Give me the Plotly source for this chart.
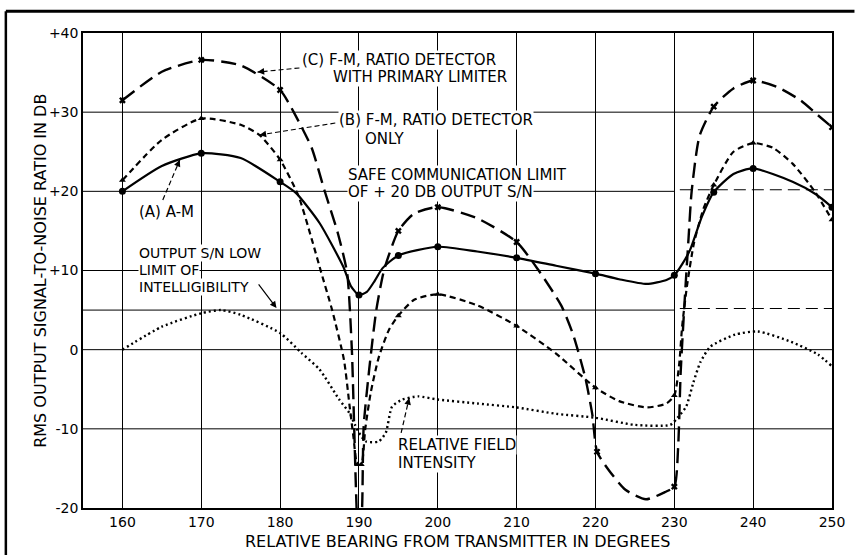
import plotly.graph_objects as go

# ---------------- data ----------------
bearing_ticks = [160, 170, 180, 190, 200, 210, 220, 230, 240, 250]
db_ticks = [-20, -10, 0, 10, 20, 30, 40]
db_ticktext = ["-20", "-10", "0", "+10", "+20", "+30", "+40"]

# (A) A-M  (solid, circles)
am_x = [160, 165, 170, 175, 180, 182, 185, 188, 189, 190, 191, 192, 193, 195, 200, 205, 210, 215, 220,
        223, 226.5, 229, 230, 231, 232, 233.5, 235, 237.5, 240, 245, 248, 250]
am_y = [20, 23.2, 24.8, 24.2, 21.2, 19.8, 16, 10.5, 8, 6.9, 7.3, 8.7, 10.3, 11.9, 13, 12.4, 11.6, 10.6, 9.6,
        8.9, 8.3, 8.8, 9.4, 10.8, 12.6, 16.8, 19.9, 22.2, 22.9, 21.2, 19.6, 18]
am_marks = [160, 170, 180, 190, 195, 200, 210, 220, 230, 235, 240, 250]

# (B) F-M, ratio detector only  (short dashes, triangles)
fm_x = [160, 165, 170, 175, 177.4, 180, 182.3, 184, 185.2, 186.6, 188.1, 188.8, 189.3, 189.8, 190.3, 190.8,
        191.5, 192.5, 193.8, 195, 197, 200, 205, 210, 215, 220, 223, 226.5, 229, 230, 230.6, 231, 231.6,
        232.5, 233.7, 235, 237.5, 240, 242.5, 245, 247.8, 250]
fm_y = [21.4, 26.5, 29.2, 28.4, 27.1, 24, 19.5, 14, 9.8, 5, -1.3, -7, -11, -14.5, -14.5, -10, -5.4, -1,
        2.5, 4.3, 6.3, 7, 5.6, 3, -0.5, -4.8, -6.5, -7.3, -6.8, -5.8, -2, 3, 8, 13.5, 17.8, 20.8, 25,
        26.1, 25.5, 23.5, 20, 16.4]
fm_marks = [160, 170, 180, 189.8, 190.3, 195, 200, 210, 220, 230, 235, 240, 250]

# (C) F-M, ratio detector with primary limiter  (long dashes, crosses)
fml_x = [160, 165, 170, 175, 180, 182, 184, 185.6, 187.3, 188.5, 189.1, 189.4, 189.7, 190, 190.4, 190.6,
         191.3, 192.2, 193.2, 195, 197, 200, 205, 210, 212.8, 215.7, 217.2, 218.7, 219.6, 220.2, 221.6,
         223.8, 226.4, 228.8, 230, 230.5, 230.8, 231.3, 231.8, 232.2, 233.2, 235, 237.5, 240, 243, 246,
         248, 250]
fml_y = [31.5, 35.1, 36.6, 35.9, 32.8, 29.5, 25.5, 20.2, 14.8, 9.7, 0, -10, -20, -26, -20, -9.7,
         -2.5, 5, 10.1, 15, 17.2, 18, 16.6, 13.6, 10, 5.5, 1.8, -3.5, -8.2, -12.9, -15.1,
         -17.7, -18.9, -18, -17.3, -12, -3, 6, 14, 20, 27, 30.7, 33, 34, 33.2, 31.5, 29.8, 28.1]
fml_marks = [160, 170, 180, 195, 200, 210, 220.2, 230, 235, 240, 250]

# Relative field intensity  (dotted)
field_x = [160, 165, 170, 172.5, 175, 180, 182.7, 185, 187.5, 188.8, 189.5, 190, 190.9, 192.5, 193.4,
           194.2, 195.5, 197.5, 200, 205, 210, 215, 220, 225, 229.5, 230.4, 231.5, 232.4, 233.3, 234.6,
           237.7, 240.6, 244.8, 248.2, 250]
field_y = [0, 2.9, 4.6, 5, 4.4, 2.1, -0.4, -2.5, -6.3, -8, -9.5, -10.5, -11.6, -11.6, -10.5,
           -7.2, -6.3, -5.9, -6.3, -6.8, -7.3, -8.1, -8.6, -9.5, -9.5, -8.6, -7.2, -4.2, -1.6, 0.4,
           1.9, 2.3, 1.0, -0.6, -2.1]

FONT = "DejaVu Sans"
INK = "black"


def pick(xs, ys, keep):
    px = [x for x in xs if x in keep]
    py = [y for x, y in zip(xs, ys) if x in keep]
    return px, py


fig = go.Figure()

curve_specs = [
    (am_x, am_y, am_marks, "solid", 2.2, "circle", 7, "(A) A-M"),
    (fm_x, fm_y, fm_marks, "6px,4px", 2.2, "triangle-up", 6, "(B)"),
    (fml_x, fml_y, fml_marks, "15px,7px", 2.4, "x", 6, "(C)"),
]
for xs, ys, mk, dash, w, sym, sz, nm in curve_specs:
    fig.add_trace(go.Scatter(x=xs, y=ys, mode="lines", name=nm,
                             line=dict(color=INK, width=w, dash=dash, shape="spline", smoothing=0.6),
                             showlegend=False, hoverinfo="skip"))
    mx, my = pick(xs, ys, mk)
    fig.add_trace(go.Scatter(x=mx, y=my, mode="markers", name=nm,
                             marker=dict(color=INK, size=sz, symbol=sym),
                             showlegend=False))

fig.add_trace(go.Scatter(x=field_x, y=field_y, mode="lines", name="Relative field intensity",
                         line=dict(color=INK, width=2.4, dash="2px,3px", shape="spline", smoothing=0.6),
                         showlegend=False, hoverinfo="skip"))

shapes = []
# horizontal grid lines
for yv in [30, 10, 0, -10]:
    shapes.append(dict(type="line", xref="x", yref="y", x0=155, x1=250, y0=yv, y1=yv,
                       line=dict(color=INK, width=1), layer="below"))
for yv in [20, 5]:
    shapes.append(dict(type="line", xref="x", yref="y", x0=155, x1=230, y0=yv, y1=yv,
                       line=dict(color=INK, width=1), layer="below"))
    shapes.append(dict(type="line", xref="x", yref="y", x0=230.7, x1=250, y0=yv + 0.2, y1=yv + 0.2,
                       line=dict(color=INK, width=1, dash="12px,6px"), layer="below"))
# outer frame of the page
shapes.append(dict(type="line", xref="paper", yref="paper", x0=-0.103, x1=1.03, y0=1.046, y1=1.046,
                   line=dict(color=INK, width=3)))
shapes.append(dict(type="line", xref="paper", yref="paper", x0=-0.103, x1=-0.103, y0=1.046, y1=-0.1,
                   line=dict(color=INK, width=2.5)))

# leader lines (dashed) from labels to curves
leaders = [
    ((182.45, 35.58), (177.14, 35.07)),   # C
    ((187.0, 28.63), (177.39, 27.12)),    # B
    ((165.12, 18.91), (167.27, 23.96)),   # A
    ((195.35, -10.52), (196.37, -6.1)),   # field
]
for (tx, ty), (hx, hy) in leaders:
    shapes.append(dict(type="line", xref="x", yref="y", x0=tx, y0=ty, x1=hx, y1=hy,
                       line=dict(color=INK, width=1.2, dash="5px,3px")))

annotations = []
def label(text, x, y, size=15):
    annotations.append(dict(text=text, x=x, y=y, xref="x", yref="y", xanchor="left", yanchor="middle",
                            showarrow=False, bgcolor="white", borderpad=0, align="left",
                            font=dict(family=FONT, size=size, color=INK)))

label("(C) F-M, RATIO DETECTOR", 182.7, 36.6)
label("WITH PRIMARY LIMITER", 186.6, 34.4)
label("(B) F-M, RATIO DETECTOR", 187.3, 29.0)
label("ONLY", 190.7, 26.6)
label("SAFE COMMUNICATION LIMIT", 188.5, 22.06)
label("OF + 20 DB OUTPUT S/N", 188.5, 19.9)
label("(A) A-M", 162.0, 17.4)
label("OUTPUT S/N LOW", 162.0, 12.2, size=14)
label("LIMIT OF", 162.0, 10.06, size=14)
label("INTELLIGIBILITY", 162.0, 7.9, size=14)
label("RELATIVE FIELD", 194.85, -12.04)
label("INTENSITY", 194.85, -14.3)

# arrowheads
heads = [
    (177.14, 35.07, 8, -0.8),
    (177.39, 27.12, 7.9, -1.25),
    (167.27, 23.96, -3.1, 7.4),
    (196.37, -6.1, -1.8, 7.8),
    (179.54, 5.27, -19, -25),
]
for hx, hy, ax, ay in heads:
    annotations.append(dict(text="", x=hx, y=hy, xref="x", yref="y", ax=ax, ay=ay,
                            showarrow=True, arrowhead=2, arrowsize=1.1, arrowwidth=1.2,
                            arrowcolor=INK))

# axis titles
annotations.append(dict(text="RELATIVE BEARING FROM TRANSMITTER IN DEGREES", xref="paper", yref="paper",
                        x=0.5, y=-0.0695, xanchor="center", yanchor="middle", showarrow=False,
                        font=dict(family=FONT, size=16, color=INK)))
annotations.append(dict(text="RMS OUTPUT SIGNAL-TO-NOISE RATIO IN DB", xref="paper", yref="paper",
                        x=-0.057, y=0.5, xanchor="center", yanchor="middle", showarrow=False,
                        textangle=-90, font=dict(family=FONT, size=16, color=INK)))

fig.update_layout(
    width=857, height=555,
    margin=dict(l=83, r=22, t=33, b=47),
    paper_bgcolor="white", plot_bgcolor="white",
    shapes=shapes, annotations=annotations,
    font=dict(family=FONT, size=14, color=INK),
    xaxis=dict(range=[155, 250], tickvals=bearing_ticks, showgrid=True, gridcolor=INK, gridwidth=1,
               showline=True, linecolor=INK, linewidth=1.5, mirror=True, ticks="", zeroline=False,
               tickfont=dict(family=FONT, size=14, color=INK)),
    yaxis=dict(range=[-20, 40], tickvals=db_ticks, ticktext=db_ticktext, showgrid=False,
               showline=True, linecolor=INK, linewidth=1.5, mirror=True, ticks="", zeroline=False,
               tickfont=dict(family=FONT, size=14, color=INK)),
)

fig.write_html("out.html", config={"displayModeBar": False},
               post_script="document.body.style.margin='0px';document.body.style.overflow='hidden';")
